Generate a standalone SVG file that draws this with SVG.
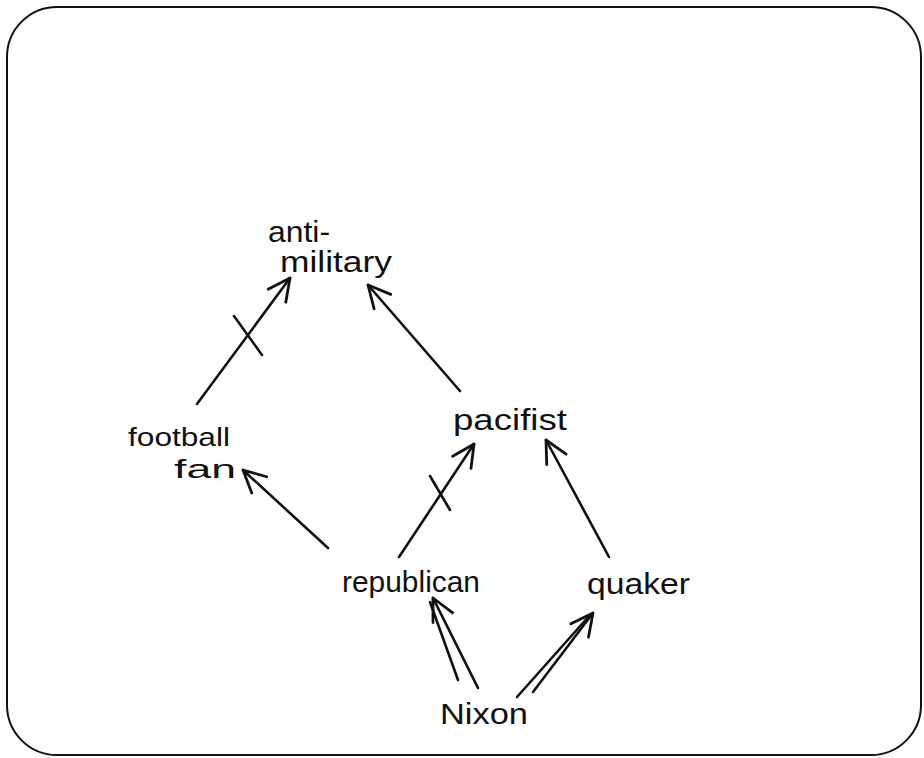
<svg xmlns="http://www.w3.org/2000/svg" width="924" height="758" viewBox="0 0 924 758">
<defs>
<style>
.lbl{font-family:"Liberation Sans","DejaVu Sans",sans-serif;font-size:30px;fill:#111;}
.sm{font-size:26px;}
.edge{stroke:#111;stroke-width:2.6;fill:none;stroke-linecap:round;}
.cross{stroke:#111;stroke-width:2.6;fill:none;stroke-linecap:round;}
</style>
<marker id="arr" viewBox="-26 -14 30 28" markerWidth="30" markerHeight="28" refX="0" refY="0" orient="auto" markerUnits="userSpaceOnUse">
<path d="M-22,-11 L0,0 L-22,11" fill="none" stroke="#111" stroke-width="2.8" stroke-linecap="round" stroke-linejoin="round"/>
</marker>
</defs>
<rect width="924" height="758" fill="#fff"/>
<rect x="7" y="7" width="914" height="748" rx="50" ry="50" fill="none" stroke="#111" stroke-width="2"/>
<g id="connectors">
<line id="e-football-anti" class="edge" x1="197" y1="404" x2="290" y2="278" marker-end="url(#arr)"/>
<path class="cross" d="M234,316 L262,355"/>
<line id="e-pacifist-anti" class="edge" x1="460" y1="391" x2="368" y2="285" marker-end="url(#arr)"/>
<line id="e-republican-football" class="edge" x1="328" y1="548" x2="243" y2="470" marker-end="url(#arr)"/>
<line id="e-republican-pacifist" class="edge" x1="399" y1="557" x2="474" y2="444" marker-end="url(#arr)"/>
<path class="cross" d="M430,476 L450,510"/>
<line id="e-quaker-pacifist" class="edge" x1="609" y1="557" x2="546" y2="440" marker-end="url(#arr)"/>
<g id="e-nixon-republican">
<line class="edge" x1="458" y1="680" x2="430" y2="602"/>
<line class="edge" x1="478" y1="688" x2="433" y2="598" marker-end="url(#arr)"/>
</g>
<g id="e-nixon-quaker">
<line class="edge" x1="517" y1="697" x2="590" y2="615"/>
<line class="edge" x1="533" y1="692" x2="593" y2="613" marker-end="url(#arr)"/>
</g>
</g>
<g id="node-anti-military">
<text class="lbl" x="268" y="242" textLength="62" lengthAdjust="spacingAndGlyphs">anti-</text>
<text class="lbl" x="280" y="272" textLength="112" lengthAdjust="spacingAndGlyphs">military</text>
</g>
<g id="node-football-fan">
<text class="lbl sm" x="128" y="446" textLength="102" lengthAdjust="spacingAndGlyphs">football</text>
<text class="lbl sm" x="174" y="478" textLength="62" lengthAdjust="spacingAndGlyphs">fan</text>
</g>
<g id="node-pacifist">
<text class="lbl" x="453" y="430" textLength="114" lengthAdjust="spacingAndGlyphs">pacifist</text>
</g>
<g id="node-republican">
<text class="lbl" x="342" y="592" textLength="138" lengthAdjust="spacingAndGlyphs">republican</text>
</g>
<g id="node-quaker">
<text class="lbl" x="587" y="594" textLength="103" lengthAdjust="spacingAndGlyphs">quaker</text>
</g>
<g id="node-nixon">
<text class="lbl" x="440" y="724" textLength="88" lengthAdjust="spacingAndGlyphs">Nixon</text>
</g>
</svg>
